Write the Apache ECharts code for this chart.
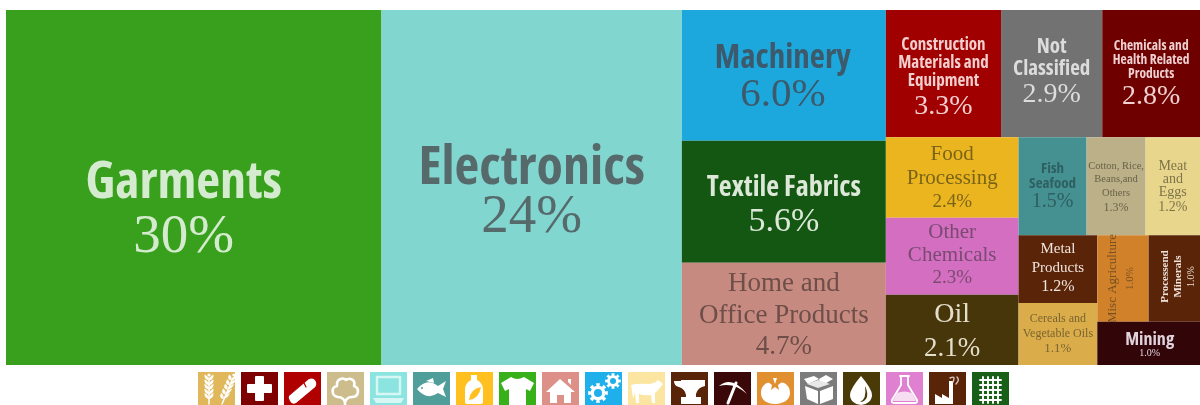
<!DOCTYPE html>
<html>
<head>
<meta charset="utf-8">
<style>html,body{margin:0;padding:0;background:#fff}#chart{width:1200px;height:405px}</style>
<script src="https://cdn.jsdelivr.net/npm/echarts@6/dist/echarts.min.js"></script>
</head>
<body>
<div id="chart"></div>
<script>
// Export shares by product group, in layout order
const categories = ['Garments','Electronics','Machinery','Textile Fabrics','Home and Office Products',
  'Construction Materials and Equipment','Not Classified','Chemicals and Health Related Products',
  'Food Processing','Other Chemicals','Oil','Fish Seafood','Cotton, Rice, Beans,and Others','Meat and Eggs',
  'Metal Products','Cereals and Vegetable Oils','Misc Agriculture','Processend Minerals','Mining'];
const shares = [30,24,6.0,5.6,4.7,3.3,2.9,2.8,2.4,2.3,2.1,1.5,1.3,1.2,1.2,1.1,1.0,1.0,1.0];
const labelLines = [['Garments'],['Electronics'],['Machinery'],['Textile Fabrics'],['Home and','Office Products'],
  ['Construction','Materials and','Equipment'],['Not','Classified'],['Chemicals and','Health Related','Products'],
  ['Food','Processing'],['Other','Chemicals'],['Oil'],['Fish','Seafood'],['Cotton, Rice,','Beans,and','Others'],['Meat','and','Eggs'],
  ['Metal','Products'],['Cereals and','Vegetable Oils'],['Misc Agriculture'],['Processend','Minerals'],['Mining']];
const cellColors = ['#38A01C','#82D6D0','#1CA8DC','#135713','#C78A80','#A00000','#727272','#6E0000',
  '#EBB51F','#D46EC0','#46360A','#459090','#BBB088','#E8D68D','#5A2408','#DAAD4A','#D0812A','#5A2408','#320508'];
const textColors = ['#D5EBCF','#566A6C','#3C5A6C','#DDE8D8','#6E4E48','#F2CFCF','#DCDCDC','#F0D0D0',
  '#7A6418','#7A4A72','#E4DECC','#2E5F62','#6A6248','#7E7448','#F0E4DC','#7A6430','#7A5020','#EEE0D8','#E0D4DC'];

// Label type per cell: [name family, name size, name line height, bold, value size, value line height, offset a, offset b]
// Rotated labels take their offset in the text's own frame, so a runs along the text and b across it.
const SANS = '"Open Sans","Noto Sans",sans-serif';
const SERIF = '"Liberation Serif",serif';
const typeSpec = [
  [SANS,52,54,true,55,56,146,-10],[SANS,54,50,true,55,48,134,0],[SANS,33,34,true,41,38,32,-1],[SANS,28,34,true,34,34,30,0],[SERIF,27,32,false,27,31,5,0],
  [SANS,17,18,true,28,34,26,0],[SANS,21,22,true,28,30,26,0],[SANS,13.5,14,true,28,32,29,0],
  [SERIF,21,24,false,19,24,5,0],[SERIF,21,23,false,19,23,3,0],[SERIF,28,32,false,27,36,4,0],
  [SANS,15,15,true,20,20,24,0],[SERIF,10.5,13.5,false,12,17,22,0],[SERIF,14,13,false,14,16,23,0],
  [SERIF,15,18.5,false,16,20,5,0],[SERIF,12,15,false,13,16,8,0],[SERIF,13,18,false,11,16,24,0],[SERIF,11,13,true,10,12,28,2],[SANS,18,18,true,10,10,9,1]
];
const rotated = {'Misc Agriculture':true,'Processend Minerals':true};

const formatShare = v => v >= 10 ? v + '%' : v.toFixed(1) + '%';

const treeData = categories.map((name, i) => {
  const s = typeSpec[i], c = textColors[i];
  const lines = labelLines[i].map(t => '{n|' + t + '}');
  lines.push('{v|' + formatShare(shares[i]) + '}');
  return {
    name, value: shares[i],
    itemStyle: { color: cellColors[i] },
    label: {
      show: true, overflow: 'none', padding: 0,
      position: ['50%', '50%'], align: 'center', verticalAlign: 'middle',
      rotate: rotated[name] ? 90 : 0,
      offset: [s[7], s[6]],
      formatter: lines.join('\n'),
      rich: {
        n: { fontFamily: s[0], fontSize: s[1], lineHeight: s[2], fontWeight: s[3] ? 'bold condensed' : 'normal', color: c, align: 'center' },
        v: { fontFamily: SERIF, fontSize: s[4], lineHeight: s[5], color: c, align: 'center' }
      }
    }
  };
});

// Legend tiles below the map: one background colour per product group, alphabetical
const tileColors = ['#E0B75A','#7E0000','#B00000','#CDBD8C','#8BE4E0','#4F9E9A','#FFC020','#38B01A','#DC9088','#1FB0EC',
  '#FCE5A0','#5A2408','#3A0808','#E09030','#7C7C7C','#4A3A08','#E080D0','#5A2408','#186018'];

// Small glyph helpers
function gear(cx, cy, r, n) {
  let d = '';
  for (let k = 0; k < n * 2; k++) {
    const a0 = (k - 0.5) * Math.PI / n, a1 = (k + 0.5) * Math.PI / n;
    const R = k % 2 ? r * 0.74 : r;
    d += (k ? 'L' : 'M') + (cx + R * Math.cos(a0)).toFixed(1) + ' ' + (cy + R * Math.sin(a0)).toFixed(1);
    d += 'L' + (cx + R * Math.cos(a1)).toFixed(1) + ' ' + (cy + R * Math.sin(a1)).toFixed(1);
  }
  return d + 'Z';
}
function disc(cx, cy, r) {
  return `M${cx - r} ${cy}A${r} ${r} 0 1 1 ${cx + r} ${cy}A${r} ${r} 0 1 1 ${cx - r} ${cy}Z`;
}
function ear(x, y, tilt) {
  return `M${x} ${y + 2}L${x + tilt * 5} ${y - 24}`;
}
function grains(x, y, tilt) {
  let d = '';
  for (let k = 0; k < 5; k++) {
    const py = y - 3 - k * 4.6, px = x + tilt * (k * 4.6 + 3) / 5;
    d += `M${px} ${py}Q${px - 5} ${py - 1} ${px - 4.5 + tilt} ${py - 6}Q${px + tilt * 0.5} ${py - 4} ${px} ${py}Z`;
    d += `M${px} ${py}Q${px + 5} ${py - 1} ${px + 4.5 + tilt} ${py - 6}Q${px + tilt * 0.5} ${py - 4} ${px} ${py}Z`;
  }
  return d + disc(x + tilt * 5.4, y - 27, 1.6);
}

// Glyph layers: f = white fill, b = tile-coloured, s = stroke outline
const glyphs = [
  [{f: grains(11, 30, 0)}, {s: ear(11, 30, 0), w: 1.5}, {f: grains(24, 30, 2.2)}, {s: ear(24, 30, 2.2), w: 1.5}],
  [{f: 'M14 5Q14 4 15 4H22Q23 4 23 5V12H30Q31 12 31 13V20Q31 21 30 21H23V28Q23 29 22 29H15Q14 29 14 28V21H7Q6 21 6 20V13Q6 12 7 12H14Z'}],
  [{f: 'M5 24L25 7Q30 5 32 10Q33 14 30 16L12 31Q8 33 6 29Q4 26 5 24Z'}, {s: 'M20 11L22 15', w: 1.2, b: true}],
  [{s: 'M11 25C4 24 4 15 10 14C9 7 16 5 19 8C23 5 29 8 27 14C33 16 32 25 25 25Q20 25 18 30Q16 25 11 25Z', w: 2.6}, {s: 'M18 30V33', w: 2.6}],
  [{s: 'M7 5H30V22H7Z', w: 2.4, c: '#D8F6F4'}, {f: 'M3 26H34L31 31H6Z', c: '#D8F6F4'}],
  [{f: 'M4 17Q14 5 25 14L33 9L30 17L33 25L25 21Q14 29 4 17Z'}, {f: 'M13 9L20 6L21 11Z'}, {f: disc(9, 16, 1), b: true}],
  [{f: 'M15 3H21V8Q27 11 27 18V30Q27 32 25 32H11Q9 32 9 30V18Q9 11 15 8Z'}, {f: 'M25 15Q14 17 13 28Q23 27 25 15Z', b: true}],
  [{f: 'M12 5Q18 9 25 5L35 11L31 19L27 17V33H10V17L6 19L2 11Z'}],
  [{f: 'M18 7L33 20H29V31H22V23H15V31H8V20H4Z'}, {f: 'M26 7H29V13L26 10Z'}],
  [{f: gear(13, 21, 10, 8)}, {f: disc(13, 21, 4), b: true}, {f: gear(28, 9, 8, 8)}, {f: disc(28, 9, 3), b: true}],
  [{f: 'M3 13Q9 11 22 12L28 10L30 8L35 12L31 17Q28 20 27 21V31H24L23 23Q16 24 11 22V31H8L7 20Q6 25 5 26Q4 19 3 13Z'}],
  [{f: 'M3 9H10V8H34V14Q27 15 25 22V25H30V32H10V25H15V23Q14 17 8 15Q3 14 3 9Z'}],
  [{f: 'M5 14Q18 3 33 22Q20 10 5 14Z'}, {s: 'M22 11L14 31', w: 3}],
  [{f: 'M4 21C4 11 13 9 18 11C24 9 33 11 33 21C33 28 26 32 18 32C10 32 4 28 4 21Z'}, {f: 'M18 4L20 9L25 10L21 13L22 18L18 15L14 18L15 13L11 10L16 9Z', b: true}, {f: 'M16 6H20L18 12Z'}],
  [{f: 'M5 14L18 19V32L7 27Z'}, {f: 'M20 19L33 14V27L20 32Z'}, {f: 'M4 7L14 4L19 7L8 12Z'}, {f: 'M19 7L26 3L33 7L21 14Z'}, {f: 'M7 12L18 16L30 12L18 8Z', c: '#E8E8E8'}],
  [{f: 'M18 4Q29 17 29 23A11 10 0 0 1 7 23Q7 17 18 4Z'}, {f: 'M22 14Q25 20 24 25Q22 30 17 30Q24 27 22 14Z', b: true}],
  [{s: 'M14 4H23M15 4V13L6 28Q5 31 8 31H29Q32 31 31 28L22 13V4', w: 1.8}, {f: 'M11 21Q18 18 26 21L30 29H7Z', c: '#F6DDF1'}],
  [{f: 'M6 32V22L13 26V22L20 26V9H24V32Z'}, {s: 'M21 6Q27 3 24 10', w: 1.4, c: '#D9C8BC'}, {s: 'M27 12Q31 8 28 5', w: 1.4, c: '#D9C8BC'}],
  [{s: 'M8 8H29M8 13H29M8 18H29M8 23H29M8 28H29M11 5V31M16 5V31M21 5V31M26 5V31', w: 1.9}]
];

const TILE_LEFT = 198, TILE_STEP = 43, TILE_TOP = 372, TILE_W = 37, TILE_H = 33;
const tiles = tileColors.map((color, i) => ({
  type: 'group',
  x: TILE_LEFT + TILE_STEP * i,
  y: TILE_TOP,
  silent: true,
  children: [{ type: 'rect', shape: { x: 0, y: 0, width: TILE_W, height: TILE_H }, style: { fill: color } }]
    .concat(glyphs[i].map((g, k) => {
      const shapeName = 'tileGlyph' + i + '_' + k;
      echarts.graphic.registerShape(shapeName, echarts.graphic.extendPath(g.f || g.s, {}));
      return {
        type: shapeName,
        style: g.s
          ? { fill: 'none', stroke: g.b ? color : (g.c || '#fff'), lineWidth: g.w, lineJoin: 'round', lineCap: 'round' }
          : { fill: g.b ? color : (g.c || '#fff') }
      };
    }))
}));

const chart = echarts.init(document.getElementById('chart'), null, { renderer: 'canvas' });
chart.setOption({
  animation: false,
  backgroundColor: '#fff',
  tooltip: { show: false },
  graphic: { elements: tiles },
  series: [{
    type: 'treemap',
    left: 6, top: 10, width: 1194, height: 355,
    sort: false,
    roam: false,
    nodeClick: false,
    breadcrumb: { show: false },
    itemStyle: { gapWidth: 0, borderWidth: 0 },
    data: treeData
  }]
});
</script>
</body>
</html>
